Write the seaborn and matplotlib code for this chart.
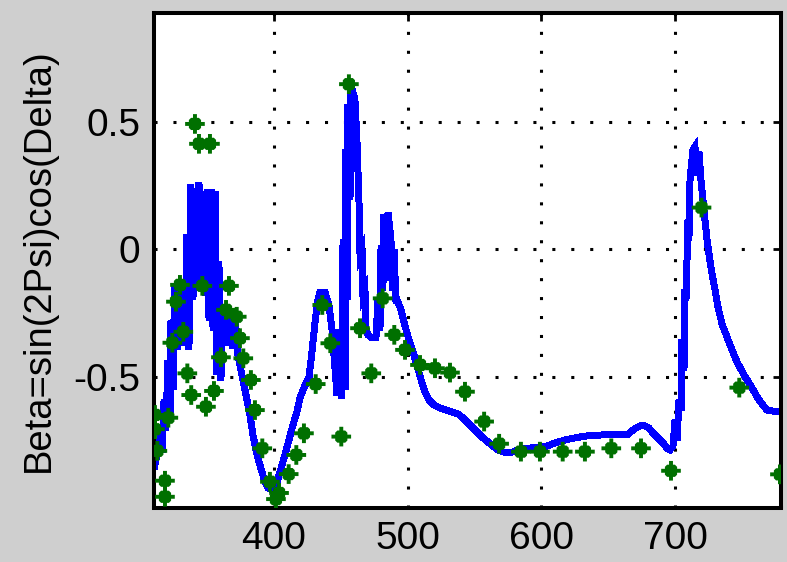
import matplotlib
matplotlib.use("Agg")
import matplotlib.pyplot as plt
import seaborn as sns
from matplotlib.markers import MarkerStyle

# ---- model curve (blue) ----
left_wl = [311.3, 312.8, 315.1, 316.6, 318.1, 319.5, 321.0, 322.5, 323.3, 324.8,
           326.3, 327.8, 329.3, 330.8, 332.3, 333.7, 335.2, 336.7, 338.2, 339.7,
           341.2, 342.7, 344.2, 345.7, 347.2, 348.7, 350.2, 351.7, 353.2, 354.7,
           356.2, 357.6, 359.1, 360.6, 362.1, 363.6, 365.1, 366.6, 368.1, 369.6,
           371.1, 373.3, 376.3, 379.3, 382.3, 384.5, 386.8, 389.0, 391.3, 393.5,
           395.7, 398.7, 401.7, 404.0, 406.2, 408.4, 411.4, 414.4, 417.4, 419.6,
           422.6, 426.4, 428.6, 430.9, 433.1, 434.6, 438.3, 441.3, 443.6]
left_beta = [-0.768, -0.807, -0.748, -0.795, -0.591, -0.709, -0.435, -0.670, -0.278, -0.552,
             -0.140, -0.395, -0.121, -0.317, -0.140, -0.376, 0.056, -0.395, 0.252, -0.199,
             0.232, -0.160, 0.260, -0.160, 0.173, -0.180, 0.232, -0.278, 0.232, -0.317,
             0.224, -0.493, -0.050, -0.513, -0.219, -0.376, -0.246, -0.376, -0.238, -0.387,
             -0.258, -0.415, -0.493, -0.572, -0.650, -0.729, -0.787, -0.834, -0.874, -0.913,
             -0.936, -0.944, -0.933, -0.886, -0.846, -0.807, -0.748, -0.689, -0.638, -0.584,
             -0.544, -0.501, -0.403, -0.285, -0.199, -0.168, -0.168, -0.219, -0.317]

peak_wl = [445.0, 447.3, 449.5, 451.0, 451.8, 453.3, 454.0, 454.8, 455.5, 457.0,
           457.7, 459.2, 460.7, 462.2, 463.7, 464.5, 466.0, 466.7, 468.2, 469.0,
           470.4, 473.4, 476.4, 477.9, 479.4, 480.2, 481.6, 482.4, 483.9, 485.4,
           486.9, 487.6, 489.1, 489.9, 491.4, 492.1]
peak_beta = [-0.415, -0.572, -0.317, -0.584, 0.036, -0.552, 0.389, -0.199, 0.566, 0.193,
             0.605, 0.616, 0.585, 0.428, 0.193, -0.023, -0.003, -0.180, -0.160, -0.317,
             -0.336, -0.348, -0.348, -0.199, -0.317, 0.016, -0.160, 0.134, -0.121, 0.142,
             0.075, 0.036, -0.160, -0.003, -0.211, -0.199]

tail_wl = [495.1, 497.3, 499.6, 501.8, 504.1, 506.3, 508.5, 510.8, 513.0, 516.0,
           519.7, 524.2, 528.7, 533.2, 537.7, 541.4, 545.1, 548.9, 552.6, 556.3,
           560.1, 563.8, 567.6, 571.3, 575.0, 578.8, 584.0, 591.5, 598.9, 604.2,
           610.1, 617.6, 625.1, 632.5, 643.7, 655.0, 664.7, 667.6, 670.6, 673.6,
           677.4, 680.3, 683.3, 687.1, 690.8, 694.5, 696.0, 698.3, 699.8, 701.3,
           702.8, 704.3, 705.0, 706.5, 707.2, 708.0, 709.5, 710.2, 711.0, 711.7,
           713.2, 714.7, 716.2, 717.7, 719.2, 720.7, 723.7, 726.7, 729.7, 731.9,
           734.9, 740.9, 746.1, 751.3, 757.3, 762.5, 768.5, 776.7]
tail_beta = [-0.238, -0.285, -0.329, -0.368, -0.403, -0.442, -0.482, -0.525, -0.560, -0.591,
             -0.611, -0.623, -0.631, -0.638, -0.646, -0.662, -0.682, -0.701, -0.721, -0.740,
             -0.756, -0.772, -0.787, -0.795, -0.799, -0.795, -0.784, -0.780, -0.776, -0.772,
             -0.760, -0.748, -0.740, -0.733, -0.729, -0.725, -0.725, -0.713, -0.701, -0.693,
             -0.693, -0.701, -0.721, -0.740, -0.760, -0.784, -0.787, -0.772, -0.670, -0.748,
             -0.591, -0.631, -0.356, -0.474, -0.160, -0.199, 0.115, 0.036, 0.271, 0.311,
             0.389, 0.401, 0.291, 0.381, 0.271, 0.193, 0.036, -0.074, -0.160, -0.227,
             -0.293, -0.376, -0.442, -0.493, -0.544, -0.591, -0.631, -0.638]

# ---- measured points (green) ----
meas_wl = [311.3, 311.3, 313.1, 318.8, 318.8, 321.3, 324.3, 327.0, 330.0, 332.5,
           335.5, 338.4, 341.2, 344.2, 346.7, 349.4, 352.4, 355.4, 360.6, 364.4,
           366.6, 372.4, 374.8, 377.3, 383.0, 386.0, 391.5, 397.2, 401.7, 404.0,
           411.2, 416.9, 422.6, 431.4, 436.3, 442.3, 450.5, 456.2, 464.5, 472.9,
           481.4, 490.1, 498.1, 509.3, 520.5, 531.7, 542.9, 557.2, 568.4, 584.7,
           598.9, 615.9, 632.5, 652.2, 674.4, 696.8, 719.6, 747.8, 778.2]
meas_beta = [-0.650, -0.706, -0.791, -0.908, -0.971, -0.661, -0.367, -0.206, -0.140, -0.324,
             -0.487, -0.572, 0.491, 0.413, -0.144, -0.618, 0.413, -0.556, -0.424, -0.238,
             -0.144, -0.265, -0.349, -0.428, -0.513, -0.631, -0.781, -0.912, -0.980, -0.956,
             -0.882, -0.807, -0.722, -0.529, -0.219, -0.369, -0.735, 0.647, -0.310, -0.487,
             -0.193, -0.336, -0.395, -0.454, -0.467, -0.484, -0.559, -0.676, -0.763, -0.794,
             -0.794, -0.794, -0.794, -0.781, -0.781, -0.869, 0.163, -0.543, -0.883]

x_ticks = [400, 500, 600, 700]
y_ticks = [-0.5, 0, 0.5]
y_tick_labels = ["-0.5", "0", "0.5"]
y_label = "Beta=sin(2Psi)cos(Delta)"

model_wl = left_wl + peak_wl + tail_wl
model_beta = left_beta + peak_beta + tail_beta

sns.set_theme(style="white")
plt.rcParams["font.family"] = ["Liberation Sans", "DejaVu Sans"]

W, H = 787, 562
fig = plt.figure(figsize=(W / 100, H / 100), dpi=100, facecolor="#cfcfcf")
ax = fig.add_axes([154 / W, 1 - 507.5 / H, (780.5 - 154) / W, (507.5 - 13) / H])
ax.set_facecolor("white")

sns.lineplot(x=model_wl, y=model_beta, sort=False, estimator=None,
             color="#0000ff", linewidth=4.3, ax=ax, zorder=2,
             antialiased=False, solid_joinstyle="miter")

star = [(-0.2, 1), (0.2, 1), (0.2, 0.62), (0.4, 0.62), (0.62, 0.4), (0.62, 0.2),
        (1, 0.2), (1, -0.2), (0.62, -0.2), (0.62, -0.4), (0.4, -0.62), (0.2, -0.62),
        (0.2, -1), (-0.2, -1), (-0.2, -0.62), (-0.4, -0.62), (-0.62, -0.4),
        (-0.62, -0.2), (-1, -0.2), (-1, 0.2), (-0.62, 0.2), (-0.62, 0.4),
        (-0.4, 0.62), (-0.2, 0.62), (-0.2, 1)]
sns.scatterplot(x=meas_wl, y=meas_beta, marker=MarkerStyle(star), s=200,
                color="#007000", edgecolor="none", linewidth=0, ax=ax, zorder=3)

ax.set_xlim(310.6, 778.6)
ax.set_ylim(-1.013, 0.926)
ax.set_xticks(x_ticks)
ax.set_xticklabels([str(t) for t in x_ticks])
ax.set_yticks(y_ticks)
ax.set_yticklabels(y_tick_labels)

ax.grid(True, color="black", linestyle=(0, (1, 5.2)), linewidth=2.2)
ax.set_axisbelow(True)
for sp in ax.spines.values():
    sp.set_visible(True)
    sp.set_color("black")
    sp.set_linewidth(2.9)
ax.tick_params(direction="in", length=6, width=2, top=True, right=True,
               labelsize=28, pad=10, colors="black")
ax.set_xlabel("")
ax.set_ylabel(y_label, fontsize=27.5, color="black")
ax.yaxis.set_label_coords(-0.155, 0.5)

fig.savefig("out.png", dpi=100, facecolor=fig.get_facecolor())
